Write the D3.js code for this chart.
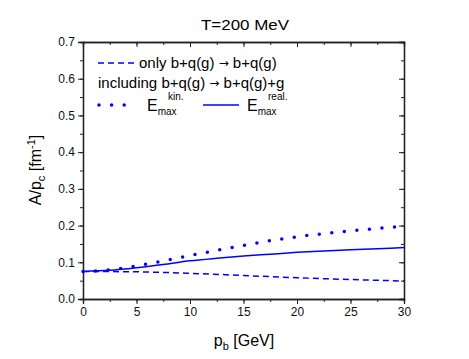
<!DOCTYPE html>
<html>
<head>
<meta charset="utf-8">
<script src="https://cdn.jsdelivr.net/npm/d3@7"></script>
<style>
  body { margin: 0; background: #fff; }
  text { font-family: "Liberation Sans", Arial, sans-serif; }
</style>
</head>
<body>
<svg id="chart" width="469" height="359"></svg>
<script>
// values
const onlyElastic = [[0, 0.075], [5, 0.074], [10, 0.070], [15, 0.064], [20, 0.058], [25, 0.053], [30, 0.049]];
const realE = [[0, 0.075], [2.5, 0.078], [5, 0.085], [7.5, 0.094], [10, 0.104], [12.5, 0.111], [15, 0.117], [17.5, 0.122], [20, 0.127], [22.5, 0.131], [25, 0.134], [27.5, 0.137], [30, 0.140]];
const kinE = [[0, 0.075], [1.5, 0.077], [4, 0.085], [6.3, 0.097], [8.7, 0.111], [11.2, 0.125], [14.8, 0.145], [18.4, 0.163], [22.2, 0.177], [25.9, 0.188], [30, 0.198]];
const xTicks = [0, 5, 10, 15, 20, 25, 30];
const yTicks = [0, 0.1, 0.2, 0.3, 0.4, 0.5, 0.6, 0.7];

const blue = "#0000ff";
const svg = d3.select("#chart");
const L = 83, R = 404, T = 42, B = 299;

const x = d3.scaleLinear().domain([0, 30]).range([L, R]);
const y = d3.scaleLinear().domain([0, 0.7]).range([B, T]);

// axes: left/bottom ticks out, top/right ticks in
const minorX = d3.range(0, 30.01, 2.5);
const minorY = d3.range(0, 0.701, 0.05);

svg.append("g").attr("transform", `translate(0,${B})`)
  .call(d3.axisBottom(x).tickValues(minorX).tickSize(3).tickFormat(""));
svg.append("g").attr("transform", `translate(0,${B})`)
  .call(d3.axisBottom(x).tickValues(xTicks).tickSize(5).tickPadding(3).tickFormat(d3.format("d")));
svg.append("g").attr("transform", `translate(${L},0)`)
  .call(d3.axisLeft(y).tickValues(minorY).tickSize(3).tickFormat(""));
svg.append("g").attr("transform", `translate(${L},0)`)
  .call(d3.axisLeft(y).tickValues(yTicks).tickSize(5).tickPadding(3).tickFormat(d3.format(".1f")));
svg.append("g").attr("transform", `translate(0,${T})`)
  .call(d3.axisBottom(x).tickValues(minorX).tickSize(3).tickFormat(""));
svg.append("g").attr("transform", `translate(0,${T})`)
  .call(d3.axisBottom(x).tickValues(xTicks).tickSize(5).tickFormat(""));
svg.append("g").attr("transform", `translate(${R},0)`)
  .call(d3.axisLeft(y).tickValues(minorY).tickSize(3).tickFormat(""));
svg.append("g").attr("transform", `translate(${R},0)`)
  .call(d3.axisLeft(y).tickValues(yTicks).tickSize(5).tickFormat(""));

svg.selectAll(".domain").attr("stroke", "#222").attr("stroke-width", 1.3);
svg.selectAll(".tick line").attr("stroke", "#222");
svg.selectAll(".tick text").attr("font-size", 12).attr("fill", "#111")
  .style("font-family", "'Liberation Sans', Arial, sans-serif");

// curves
const line = d3.line().x(d => x(d[0])).y(d => y(d[1])).curve(d3.curveMonotoneX);
svg.append("path").datum(onlyElastic).attr("d", line).attr("fill", "none")
  .attr("stroke", blue).attr("stroke-width", 1.5).attr("stroke-dasharray", "6,4");
svg.append("path").datum(realE).attr("d", line).attr("fill", "none")
  .attr("stroke", blue).attr("stroke-width", 1.5);
svg.append("path").datum(kinE).attr("d", line).attr("fill", "none")
  .attr("stroke", blue).attr("stroke-width", 3.5).attr("stroke-linecap", "round")
  .attr("stroke-dasharray", "0,12.6");

// title and axis labels
svg.append("text").attr("x", 245).attr("y", 30).attr("text-anchor", "middle")
  .attr("font-size", 15).attr("textLength", 88).attr("lengthAdjust", "spacingAndGlyphs")
  .text("T=200 MeV");

const xl = svg.append("text").attr("x", 244).attr("y", 346).attr("text-anchor", "middle").attr("font-size", 16);
xl.append("tspan").text("p");
xl.append("tspan").attr("font-size", 11).attr("dy", 4).text("b");
xl.append("tspan").attr("dy", -4).text(" [GeV]");

const yl = svg.append("text").attr("transform", "translate(41,170) rotate(-90)")
  .attr("text-anchor", "middle").attr("font-size", 16);
yl.append("tspan").text("A/p");
yl.append("tspan").attr("font-size", 11).attr("dy", 4).text("c");
yl.append("tspan").attr("dy", -4).text(" [fm");
yl.append("tspan").attr("font-size", 11).attr("dy", -6).text("-1");
yl.append("tspan").attr("dy", 6).text("]");

// legend
const lg = svg.append("g");
function arrowText(x0, y0, a, b) {
  const t = lg.append("text").attr("x", x0).attr("y", y0).attr("font-size", 15);
  t.append("tspan").text(a + " ");
  t.append("tspan").style("font-family", "'DejaVu Sans', sans-serif").attr("font-size", 12)
    .attr("dy", -1.5).text("→");
  t.append("tspan").attr("dy", 1.5).text(" " + b);
}
lg.append("line").attr("x1", 98).attr("x2", 136).attr("y1", 63).attr("y2", 63)
  .attr("stroke", blue).attr("stroke-width", 1.5).attr("stroke-dasharray", "6,4");
arrowText(139, 68, "only b+q(g)", "b+q(g)");
arrowText(98, 88, "including b+q(g)", "b+q(g)+g");
lg.append("line").attr("x1", 99).attr("x2", 133).attr("y1", 105).attr("y2", 105)
  .attr("stroke", blue).attr("stroke-width", 3.5).attr("stroke-linecap", "round")
  .attr("stroke-dasharray", "0,12.6");
lg.append("line").attr("x1", 203).attr("x2", 239).attr("y1", 105).attr("y2", 105)
  .attr("stroke", blue).attr("stroke-width", 1.5);

function emax(x0, sup) {
  const t = lg.append("text").attr("x", x0).attr("y", 111).attr("font-size", 16);
  t.append("tspan").text("E");
  t.append("tspan").attr("font-size", 10).attr("dy", 4).text("max");
  lg.append("text").attr("x", x0 + 21).attr("y", 100).attr("font-size", 10).text(sup);
}
emax(147, "kin.");
emax(247, "real.");
</script>
</body>
</html>
